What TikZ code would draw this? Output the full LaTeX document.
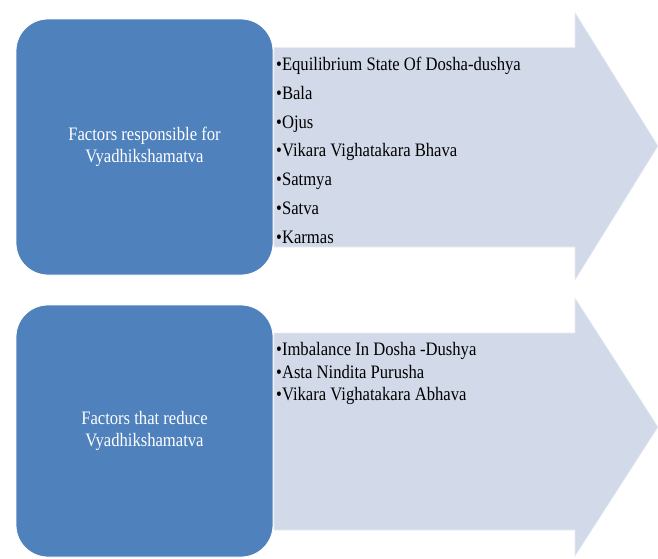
\documentclass[tikz,border=0pt]{standalone}
\usepackage{fontspec}
\setmainfont{Liberation Serif}[FakeStretch=0.875]
\definecolor{boxblue}{HTML}{4F81BD}
\definecolor{arrowfill}{HTML}{D2DAE9}
\begin{document}
\begin{tikzpicture}[x=1pt,y=-1pt,
  factorbox/.style={draw=white, line width=0.8pt, fill=boxblue, rounded corners=32pt,
    minimum width=257pt, text=white, align=center,
    font=\fontsize{19}{22}\selectfont, inner sep=0pt},
  arrowshape/.style={fill=arrowfill, draw=arrowfill!50!white, line width=0.6pt},
  itemlist/.style={anchor=north west, inner sep=0pt, align=left, text=black}]
\useasboundingbox (0,0) rectangle (658,558);
% arrows
\path[arrowshape] (274,47.5) -- (575,47.5) -- (575,12.5) -- (658,146) -- (575,280)
  -- (575,247) -- (274,247) -- cycle;
\path[arrowshape] (274,333) -- (575,333) -- (575,298) -- (658,427) -- (575,556)
  -- (575,530) -- (274,530) -- cycle;
% boxes
\node[factorbox, minimum height=256pt] (top) at (144.5,147)
  {Factors responsible for\\Vyadhikshamatva};
\node[factorbox, minimum height=252pt] (bottom) at (144.5,431)
  {Factors that reduce\\Vyadhikshamatva};
% lists
\node[itemlist, font=\fontsize{19}{28.8}\selectfont] (toplist) at (276,57)
  {•Equilibrium State Of Dosha-dushya\\•Bala\\•Ojus\\•Vikara Vighatakara Bhava\\•Satmya\\•Satva\\•Karmas};
\node[itemlist, font=\fontsize{19}{22.7}\selectfont] (bottomlist) at (276,342)
  {•Imbalance In Dosha -Dushya\\•Asta Nindita Purusha\\•Vikara Vighatakara Abhava};
\end{tikzpicture}
\end{document}
